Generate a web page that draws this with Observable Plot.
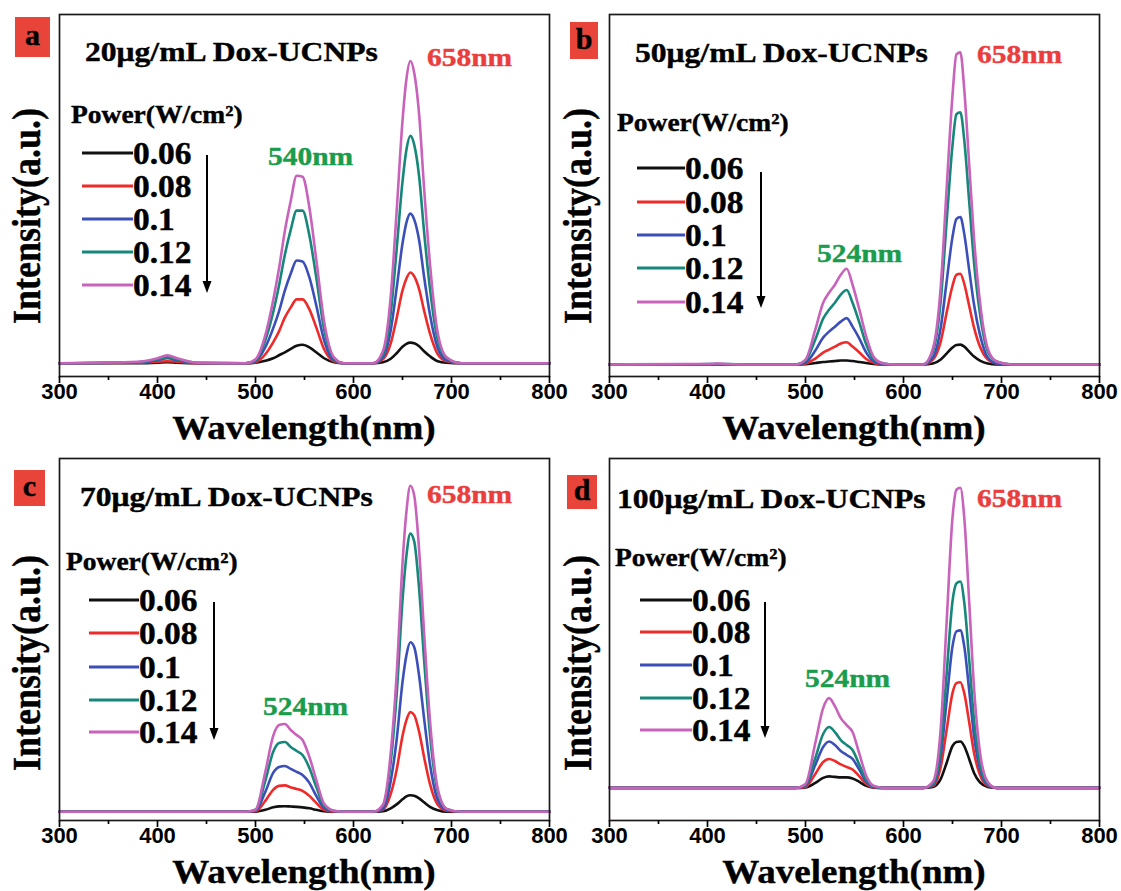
<!DOCTYPE html>
<html><head><meta charset="utf-8">
<script src="https://cdn.jsdelivr.net/npm/d3@7"></script>
<script src="https://cdn.jsdelivr.net/npm/@observablehq/plot@0.6"></script>
<style>
body{margin:0;background:#fff;}
#wrap{position:relative;width:1121px;height:891px;overflow:hidden;background:#fff;}
.panel{position:absolute;}
</style></head><body><div id="wrap"></div>
<script>
// ---------- DATA ----------
const wavelength = [300,380,400,410,420,440, 490,500,510,518,524,530,536,542,548,555,562,570,580,590, 620,630,638,644,650,654,658,662,667,672,678,686,695,710, 800];
const powers = ["0.06","0.08","0.1","0.12","0.14"];
const majorTicks = [300,400,500,600,700,800];
const minorTicks = [350,450,550,650,750];

// panel a : 20 µg/mL
const a006 = [0,0,0.5,1,0.5,0, 0,0.5,2.5,5,8,11,14.5,17.5,18.5,16,11,5,1,0, 0,1,4.5,10,16.5,19.5,20.7,20,17,12,7,2,0.5,0, 0];
const a008 = [0,0.5,1.5,2,1.5,0, 0,1,9,21,32,46,56,64,64,54,36,14,2,0, 0,4,20,45,73,85,91,87,74,53,30,9,2,0, 0];
const a010 = [0,1,3,5,3,0.3, 0,2,16,35,52,73,90,103,102,86,58,23,3,0, 0,6,33,75,120,141,150,144,123,87,49,15,3,0, 0];
const a012 = [0,1,4,6,4,0.5, 0,3,23,51,78,109,134,153,153,128,86,34,5,0, 0,9,50,114,182,214,228,219,187,132,75,23,5,0, 0];
const a014 = [0,1.5,5,8,5,0.5, 0,4,28,63,95,133,163,188,187,156,104,42,6,0, 0,12,67,152,243,285,303,291,249,176,100,30,6,0, 0];
// panel b : 50 µg/mL
const b006 = [0,0,0,0,0,0, 0,0.3,1.5,2.5,3,3.5,4,4,3.5,2.5,1.5,0.5,0,0, 0,1,5,11,17,19.5,20,18,13,8,4,1,0,0, 0];
const b008 = [0,0,0,0,0,0, 0,1,6,12,15,18,21,22.3,18,12,5.5,1.5,0,0, 0,5,23,52,79,90,91,81,59,37,18,5,1,0, 0];
const b010 = [0,0,0,0.5,0,0, 0,2,14,27,33,38,43,46.5,38,26,12,3,0.5,0, 0,7,37,83,128,146,148,131,95,60,30,7,1,0, 0];
const b012 = [0,0,0.5,0.5,0.5,0, 0,4,25,46,55,62,70,74.7,62,42,20,5,1,0, 0,13,64,143,220,251,253,225,164,102,51,13,3,0, 0];
const b014 = [0,0.5,0.5,1,0.5,0, 0,5,35,62,72,80,90,96,80,55,28,7,1,0, 0,16,78,176,270,311,313,276,201,126,63,16,3,0, 0];
// panel c : 70 µg/mL
const c006 = [0,0,0,0,0,0, 0,0.2,2,4.5,5.5,5.6,5.3,5,4.5,3.5,2,0.5,0,0, 0,0.5,3.5,7.5,12.5,15.5,16.6,16,13.5,9.5,5,1.5,0,0, 0];
const c008 = [0,0,0,0,0,0, 0,0.5,11,22,26,26.5,24.5,23,21,16,9,2,0,0, 0,2,18,42,76,92,100,97,80,55,28,7,1,0, 0];
const c010 = [0,0,0,0,0,0, 0,1,20,39,45,46,43,40,37,29,16,4,0.5,0, 0,3,31,72,130,157,170,165,136,94,48,12,2,0, 0];
const c012 = [0,0,0,0,0,0, 0,2,31,60,69,70,65,61,57,44,25,6,1,0, 0,6,50,117,212,257,279,271,223,153,78,20,3,0, 0];
const c014 = [0,0,0,0,0,0, 0,2,40,76,87,88,82,77,72,55,32,8,1,0, 0,7,59,137,249,301,327,317,262,180,92,23,3,0, 0];
// panel d : 100 µg/mL
const d006 = [0,0,0,0,0,0, 0,0.5,5,10,11.5,11,10.5,10.5,9.5,6,2,0.3,0,0, 0,1,9,25,42,46,46.5,42,29,15,5.5,1,0,0, 0];
const d008 = [0,0,0,0,0,0, 0,1,14,26,29,27,23.5,21,18.5,11.5,4,0.5,0,0, 0,2,21,58,95,105,106,95,66,35,13,2,0,0, 0];
const d010 = [0,0,0,0,0,0, 0,2,23,41,46.5,43,37,33,29,18,6,1,0,0, 0,3,32,87,142,157,158,142,98,52,19,3,0,0, 0];
const d012 = [0,0,0,0,0,0, 0,3,30,54,61,56,48,43,38,23,8,1.5,0,0, 0,4,41,114,187,205,207,186,129,68,25,4,0,0, 0];
const d014 = [0,0,0,0,0,0, 0,4,45,80,90,82,70,63,56,34,12,2,0,0, 0,6,60,166,271,299,301,271,187,100,36,6,0,0, 0];

const panelLetters = ["a","b","c","d"];
const concentrations = ["20μg/mL Dox-UCNPs","50μg/mL Dox-UCNPs","70μg/mL Dox-UCNPs","100μg/mL Dox-UCNPs"];
const greenPeaks = ["540nm","524nm","524nm","524nm"];
const redPeak = "658nm";

// ---------- STYLE / LAYOUT ----------
const colors = ["#111111","#ee2b2b","#3c4fb8","#16877a","#c962bb"];
const serif = "'Liberation Serif','Times New Roman',serif";
const sans = "'Liberation Sans',Arial,sans-serif";

const layout = [
  {series:[a006,a008,a010,a012,a014], left:0,   top:0,   dom:[-13.3,349.7],
   box:[15,17,35,40], title:[85,61], red:[427,66], green:[268,165], header:[71,123],
   rows:[153,186,219,252,285], sw:[82,133], arrow:[207,155,293], ylab:[40,216], xlab:[304,439]},
  {series:[b006,b008,b010,b012,b014], left:550, top:0,   dom:[-12,351],
   box:[570,22,28,37], title:[635,62], red:[977,63], green:[817,262], header:[617,131],
   rows:[168,202,235,268,302], sw:[637,685], arrow:[761,172,308], ylab:[591,216], xlab:[854,439]},
  {series:[c006,c008,c010,c012,c014], left:0,   top:444, dom:[-8.7,354.3],
   box:[14,470,31,36], title:[80,506], red:[427,503], green:[263,715], header:[66,570],
   rows:[600,633,667,700,732], sw:[89,139], arrow:[214,602,740], ylab:[40,663], xlab:[304,883]},
  {series:[d006,d008,d010,d012,d014], left:550, top:444, dom:[-32.7,330.3],
   box:[567,475,30,34], title:[617,508], red:[977,507], green:[805,687], header:[615,566],
   rows:[600,632,665,698,730], sw:[640,692], arrow:[765,602,738], ylab:[591,663], xlab:[854,883]}
];

const wrap = document.getElementById("wrap");

layout.forEach((cfg) => {
  const rows = [];
  cfg.series.forEach((vals, i) => vals.forEach((v, j) => rows.push({w: wavelength[j], v, p: powers[i]})));
  const chart = Plot.plot({
    width: 560, height: 445,
    marginLeft: 59, marginRight: 11, marginTop: 14, marginBottom: 69,
    x: {domain: [300, 800]},
    y: {domain: cfg.dom, axis: null},
    color: {domain: powers, range: colors},
    style: {background: "transparent", overflow: "visible", color: "#000"},
    marks: [
      Plot.line(rows, {x: "w", y: "v", z: "p", stroke: "p", curve: "monotone-x", strokeWidth: 2.6}),
      Plot.frame({stroke: "#1a1a1a", strokeWidth: 1.7}),
      Plot.axisX({ticks: majorTicks, tickSize: 7, tickPadding: 0, tickFormat: d => String(d),
        fontSize: 22, fontWeight: "bold", fontFamily: sans, label: null, strokeWidth: 1.7}),
      Plot.axisX({ticks: minorTicks, tickSize: 4, tickFormat: () => "", label: null, strokeWidth: 1.7})
    ]
  });
  const div = document.createElement("div");
  div.className = "panel";
  div.style.left = cfg.left + "px";
  div.style.top = cfg.top + "px";
  div.appendChild(chart);
  wrap.appendChild(div);
});

// ---------- ANNOTATION OVERLAY ----------
const ov = d3.select(wrap).append("svg")
  .attr("width", 1121).attr("height", 891)
  .style("position", "absolute").style("left", "0px").style("top", "0px");

function label(x, y, str, size, fill, sx, anchor = "start", rotate = 0) {
  return ov.append("text")
    .attr("transform", `translate(${x},${y}) scale(${sx},1)` + (rotate ? ` rotate(${rotate})` : ""))
    .attr("text-anchor", anchor)
    .attr("font-family", serif).attr("font-weight", "bold")
    .attr("font-size", size).attr("fill", fill)
    .attr("stroke", fill).attr("stroke-width", 0.4)
    .text(str);
}

layout.forEach((cfg, k) => {
  const [bx, by, bw, bh] = cfg.box;
  ov.append("rect").attr("x", bx).attr("y", by).attr("width", bw).attr("height", bh).attr("fill", "#e9443a");
  label(bx + bw / 2, by + bh / 2 + 8, panelLetters[k], 30, "#000", 1, "middle");
  label(cfg.title[0], cfg.title[1], concentrations[k], 28, "#000", 1.13);
  label(cfg.red[0], cfg.red[1], redPeak, 25, "#ea3d3d", 1.18);
  label(cfg.green[0], cfg.green[1], greenPeaks[k], 25, "#1a9c4c", 1.18);
  label(cfg.header[0], cfg.header[1], "Power(W/cm²)", 25, "#000", 1.1);
  cfg.rows.forEach((ry, i) => {
    ov.append("line").attr("x1", cfg.sw[0]).attr("x2", cfg.sw[1]).attr("y1", ry).attr("y2", ry)
      .attr("stroke", colors[i]).attr("stroke-width", 3.2);
    label(cfg.sw[1], ry + 10.5, powers[i], 31, "#000", 1.08);
  });
  const [ax, ay0, ay1] = cfg.arrow;
  ov.append("line").attr("x1", ax).attr("x2", ax).attr("y1", ay0).attr("y2", ay1 - 10)
    .attr("stroke", "#000").attr("stroke-width", 2);
  ov.append("path").attr("d", `M${ax - 4.5},${ay1 - 12} L${ax + 4.5},${ay1 - 12} L${ax},${ay1} Z`).attr("fill", "#000");
  label(cfg.ylab[0], cfg.ylab[1], "Intensity(a.u.)", 36, "#000", 1.12, "middle", -90);
  label(cfg.xlab[0], cfg.xlab[1], "Wavelength(nm)", 34, "#000", 1.09, "middle");
});
</script></body></html>
